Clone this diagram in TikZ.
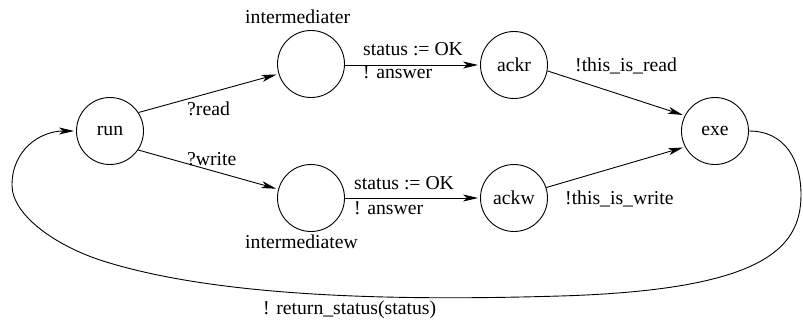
\documentclass[tikz,border=0pt]{standalone}
\usepackage{fontspec}
\setmainfont{Liberation Serif}
\newfontfamily\tmsfont{Liberation Serif}
\usetikzlibrary{arrows.meta}
\begin{document}
\begin{tikzpicture}[x=1pt,y=-1pt,
  state/.style={circle,draw,line width=0.9pt,minimum size=67pt,inner sep=0pt,font=\tmsfont\fontsize{19.7}{22}\selectfont},
  lbl/.style={anchor=base west,inner sep=0pt,font=\tmsfont\fontsize{19.7}{22}\selectfont},
  edge/.style={line width=0.9pt,-{Stealth[length=15pt,width=7pt,inset=4pt]},shorten >=2pt}]
\useasboundingbox (0,0) rectangle (803,322);
\node[state] (run) at (110,131) {run};
\node[state] (intr) at (311,64) {};
\node[state] (intw) at (311,198) {};
\node[state] (ackr) at (514,65) {ackr};
\node[state] (ackw) at (514,198) {ackw};
\node[state] (exe) at (715,131) {exe};

\node[lbl] (lintr) at (245,23) {intermediater};
\node[lbl] (lintw) at (245,248) {intermediatew};

\draw[edge] (run.33) -- (intr.197);
\draw[edge] (run.-34) -- (intw.165);
\node[lbl] (lread) at (187,115) {?read};
\node[lbl] (lwrite) at (187,165) {?write};

\draw[edge] (intr.east |- 0,65) -- (ackr.west);
\draw[edge] (intw.east) -- (ackw.west);
\node[lbl] (s1) at (363,55) {status := OK};
\node[lbl] (a1) at (363,78) {! answer};
\node[lbl] (s2) at (354,189) {status := OK};
\node[lbl] (a2) at (354,214) {! answer};

\draw[edge] (ackr.-10) -- (exe.153);
\draw[edge] (ackw.18) -- (exe.208);
\node[lbl] (tr) at (575,71) {!this\_is\_read};
\node[lbl] (tw) at (565,204) {!this\_is\_write};

\draw[edge] (exe.east) .. controls (785,131) and (801,160) .. (801,195)
  .. controls (801,250) and (760,290) .. (560,296)
  .. controls (410,300.5) and (220,299) .. (100,260)
  .. controls (55,245) and (12,215) .. (12,185)
  .. controls (12,150) and (40,131) .. (run.west);
\node[lbl] (ret) at (263,314) {! return\_status(status)};
\end{tikzpicture}
\end{document}
